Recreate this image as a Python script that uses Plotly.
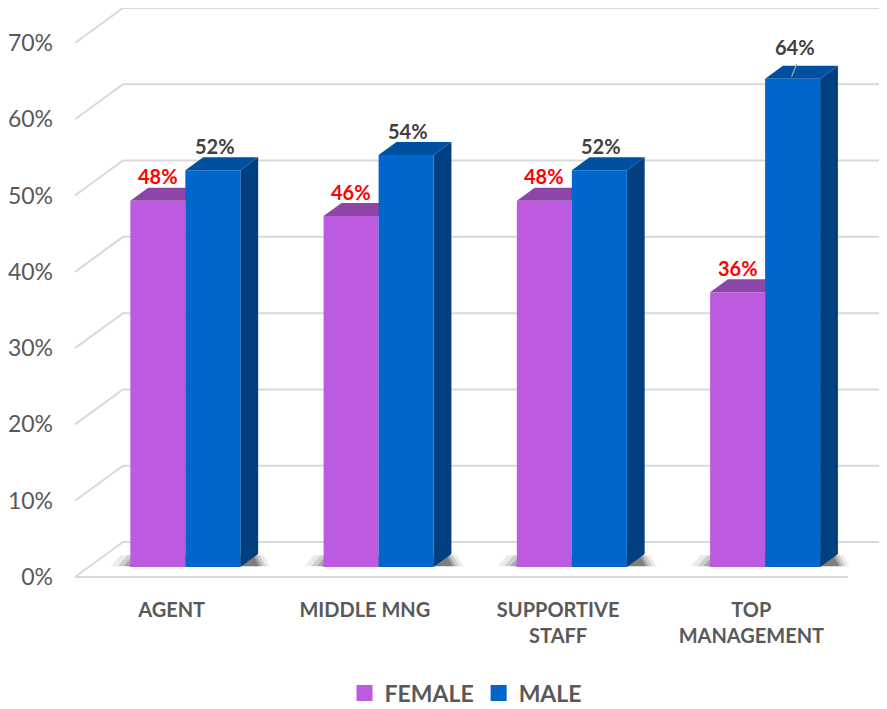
import plotly.graph_objects as go

# ---------------- data ----------------
categories = ["AGENT", "MIDDLE MNG", "SUPPORTIVE<br>STAFF", "TOP<br>MANAGEMENT"]
female = [48, 46, 48, 36]
male = [52, 54, 52, 64]
y_ticks = [0, 10, 20, 30, 40, 50, 60, 70]
y_tick_labels = ["0%", "10%", "20%", "30%", "40%", "50%", "60%", "70%"]
series_names = ["FEMALE", "MALE"]

# ---------------- styling / geometry ----------------
OFF = 8                      # page body margin
W, H = 887 - OFF, 709 - OFF
ML, MT, MB, MR = 60, 0, 119, 0
UX = 193.25          # px per category unit
UY = 7.629           # px per percent
FRONT_LEFT_PX = 75 - OFF
ZERO_PX = 577 - OFF
PLOT_BOTTOM = H - MB
x0 = -0.5 - (FRONT_LEFT_PX - ML) / UX
x1 = x0 + (W - ML - MR) / UX
ymax = (ZERO_PX - MT) / UY
ymin = -(PLOT_BOTTOM - ZERO_PX) / UY

DX, DY = 48 / UX, 35 / UY      # full floor depth vector
F_FRONT, F_BACK = 0.286, 0.657 # depth fractions of bar faces
BW = 55 / UX

GRID = "#D9D9D9"
TXT = "#595959"
FEM = dict(front="#BD5BE0", top="#8D45A8")
MAL = dict(front="#0066CC", top="#0050A1", side="#003F80")
FONT = "Lato"

fig = go.Figure()

def poly(xs, ys, color, opacity=1.0):
    fig.add_trace(go.Scatter(x=xs + [xs[0]], y=ys + [ys[0]], mode="lines", fill="toself",
                             fillcolor=color, line=dict(width=0, color=color),
                             opacity=opacity, hoverinfo="skip", showlegend=False))

# gridlines (perspective)
xr_back = 3.5 + DX
for v in y_ticks:
    fig.add_trace(go.Scatter(x=[-0.5, -0.5 + DX, xr_back], y=[v, v + DY, v + DY],
                             mode="lines", line=dict(color=GRID, width=2),
                             hoverinfo="skip", showlegend=False))
fig.add_trace(go.Scatter(x=[-0.5, 3.5], y=[0, 0], mode="lines",
                         line=dict(color=GRID, width=2), hoverinfo="skip", showlegend=False))

fdx, fdy = F_FRONT * DX, F_FRONT * DY
bdx, bdy = (F_BACK - F_FRONT) * DX, (F_BACK - F_FRONT) * DY

# soft shadows on floor
for i in range(len(categories)):
    xl = i - BW + fdx
    xr = i + BW + fdx + bdx
    for grow, alpha in [(0.10, 0.08), (0.065, 0.12), (0.035, 0.18), (0.01, 0.25)]:
        poly([xl - grow, xr + grow * 0.6, xr + grow * 0.6 - 0.03, xl - grow + 0.05],
             [fdy + 0.1, fdy + 0.1, fdy + bdy * 0.9, fdy + bdy * 0.9], "#000000", alpha)

annotations = []
for i in range(len(categories)):
    # female bar
    fl, fr = i - BW + fdx, i + fdx
    vf = female[i]
    poly([fl, fr, fr + bdx, fl + bdx], [fdy + vf, fdy + vf, fdy + vf + bdy, fdy + vf + bdy], FEM["top"])
    poly([fl, fr, fr, fl], [fdy, fdy, fdy + vf, fdy + vf], FEM["front"])
    # male bar
    ml_, mr_ = i + fdx, i + BW + fdx
    vm = male[i]
    poly([mr_, mr_ + bdx, mr_ + bdx, mr_], [fdy, fdy + bdy, fdy + vm + bdy, fdy + vm], MAL["side"])
    poly([ml_, mr_, mr_ + bdx, ml_ + bdx], [fdy + vm, fdy + vm, fdy + vm + bdy, fdy + vm + bdy], MAL["top"])
    poly([ml_, mr_, mr_, ml_], [fdy, fdy, fdy + vm, fdy + vm], MAL["front"])

    annotations.append(dict(x=(fl + fr) / 2, y=fdy + vf + bdy + 1.5, text=f"<b>{vf}%</b>",
                            showarrow=False, font=dict(family=FONT, size=20, color="#FF0000"),
                            xanchor="center", yanchor="middle"))
    lift = 2.5 if vm > 60 else 1.5
    annotations.append(dict(x=(ml_ + mr_) / 2 + 0.01, y=fdy + vm + bdy + lift, text=f"<b>{vm}%</b>",
                            showarrow=False, font=dict(family=FONT, size=20, color="#404040"),
                            xanchor="center", yanchor="middle"))
    if vm > 60:
        cx = (ml_ + mr_) / 2
        fig.add_trace(go.Scatter(x=[cx + 0.022, cx - 0.005], y=[fdy + vm + bdy + 0.25, fdy + vm + 0.3],
                                 mode="lines", line=dict(color="#A6A6A6", width=1.2),
                                 hoverinfo="skip", showlegend=False))

# legend entries
for name, col in zip(series_names, [FEM["front"], MAL["front"]]):
    fig.add_trace(go.Scatter(x=[None], y=[None], mode="markers", name=name,
                             marker=dict(symbol="square", size=16, color=col)))

plot_h = PLOT_BOTTOM - MT
plot_w = W - ML - MR
fig.update_layout(
    width=W, height=H, autosize=False,
    margin=dict(l=ML, r=MR, t=MT, b=MB, autoexpand=False),
    plot_bgcolor="white", paper_bgcolor="white",
    font=dict(family=FONT, color=TXT),
    xaxis=dict(range=[x0, x1], tickvals=list(range(len(categories))), ticktext=categories,
               showgrid=False, zeroline=False, showline=False, ticks="",
               tickfont=dict(family=FONT, size=20, color=TXT, weight="bold"),
               ticklabelstandoff=6, automargin=False, fixedrange=True),
    yaxis=dict(range=[ymin, ymax], tickvals=y_ticks, ticktext=y_tick_labels,
               showgrid=False, zeroline=False, showline=False, ticks="",
               tickfont=dict(family=FONT, size=23, color=TXT),
               ticklabelstandoff=14, automargin=False, fixedrange=True),
    showlegend=True,
    legend=dict(orientation="h", x=(466 - OFF - ML) / plot_w, xanchor="center",
                y=-(693 - OFF - PLOT_BOTTOM) / plot_h, yanchor="middle",
                font=dict(family=FONT, size=23, color=TXT, weight="bold"),
                tracegroupgap=0, bgcolor="rgba(0,0,0,0)"),
    annotations=annotations,
)

fig.write_html("out.html")
